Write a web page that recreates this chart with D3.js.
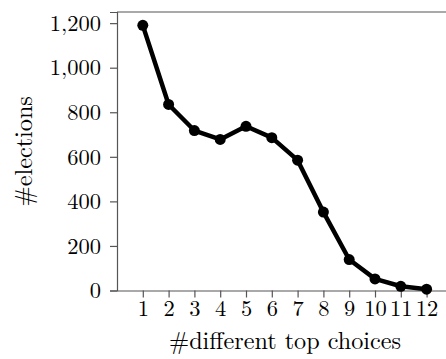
<!DOCTYPE html>
<html>
<head>
<meta charset="utf-8">
<script src="https://cdn.jsdelivr.net/npm/d3@7"></script>
<style>
  html, body { margin: 0; padding: 0; background: #fff; }
  svg { display: block; }
  text { font-family: "Latin Modern Roman", "Liberation Serif", serif; fill: #000; }
</style>
</head>
<body>
<svg id="chart" width="446" height="359"></svg>
<script>
// Number of elections by number of different top choices
const topChoices = [1, 2, 3, 4, 5, 6, 7, 8, 9, 10, 11, 12];
const elections = [1190, 835, 718, 678, 737, 686, 585, 352, 139, 52, 19, 6];
const yTicks = [0, 200, 400, 600, 800, 1000, 1200];

const svg = d3.select("#chart");
const margin = { left: 117, top: 12, bottom: 290.5 };
const x = d3.scaleLinear().domain([0, 13]).range([margin.left, margin.left + 13 * 25.8]);
const y = d3.scaleLinear().domain([0, 1250]).range([margin.bottom, margin.top]);

const fmt = d3.format(",");
const axisColor = "#555";
const tickFont = 22.5;
const titleFont = 24.2;
const fontFamily = '"Latin Modern Roman", "Liberation Serif", serif';

// plot frame (top edge runs off the right side)
svg.append("line")
  .attr("x1", x(0)).attr("x2", x(13))
  .attr("y1", y(1250)).attr("y2", y(1250))
  .attr("stroke", axisColor).attr("stroke-width", 1.2);

// y axis
const yAxis = svg.append("g")
  .attr("transform", `translate(${x(0)},0)`)
  .call(d3.axisLeft(y).tickValues(yTicks).tickFormat(fmt).tickSize(7).tickPadding(9));
yAxis.select(".domain").attr("stroke", axisColor).attr("stroke-width", 1.2);
yAxis.selectAll(".tick line").attr("stroke", axisColor).attr("stroke-width", 1.2);
yAxis.selectAll(".tick text").attr("font-size", tickFont).attr("fill", "#000")
  .style("font-family", fontFamily);

// x axis
const xAxis = svg.append("g")
  .attr("transform", `translate(0,${y(0)})`)
  .call(d3.axisBottom(x).tickValues(topChoices).tickSize(7).tickPadding(3).tickSizeOuter(0));
xAxis.select(".domain").attr("stroke", axisColor).attr("stroke-width", 1.2);
xAxis.selectAll(".tick line").attr("stroke", axisColor).attr("stroke-width", 1.2);
xAxis.selectAll(".tick text").attr("font-size", tickFont).attr("fill", "#000")
  .style("font-family", fontFamily);

// axis titles
svg.append("text")
  .attr("x", 285).attr("y", 349)
  .attr("text-anchor", "middle")
  .attr("font-size", titleFont)
  .style("font-family", fontFamily)
  .text("#different top choices");

svg.append("text")
  .attr("transform", `translate(32,${(y(0) + y(1250)) / 2}) rotate(-90)`)
  .attr("text-anchor", "middle")
  .attr("font-size", titleFont)
  .style("font-family", fontFamily)
  .text("#elections");

// series line and markers
const line = d3.line().x((d, i) => x(topChoices[i])).y(d => y(d));
svg.append("path")
  .datum(elections)
  .attr("d", line)
  .attr("fill", "none")
  .attr("stroke", "#000")
  .attr("stroke-width", 4.5)
  .attr("stroke-linejoin", "round");

svg.selectAll("circle.pt")
  .data(elections)
  .join("circle")
  .attr("class", "pt")
  .attr("cx", (d, i) => x(topChoices[i]))
  .attr("cy", d => y(d))
  .attr("r", 5.5)
  .attr("fill", "#000");
</script>
</body>
</html>
